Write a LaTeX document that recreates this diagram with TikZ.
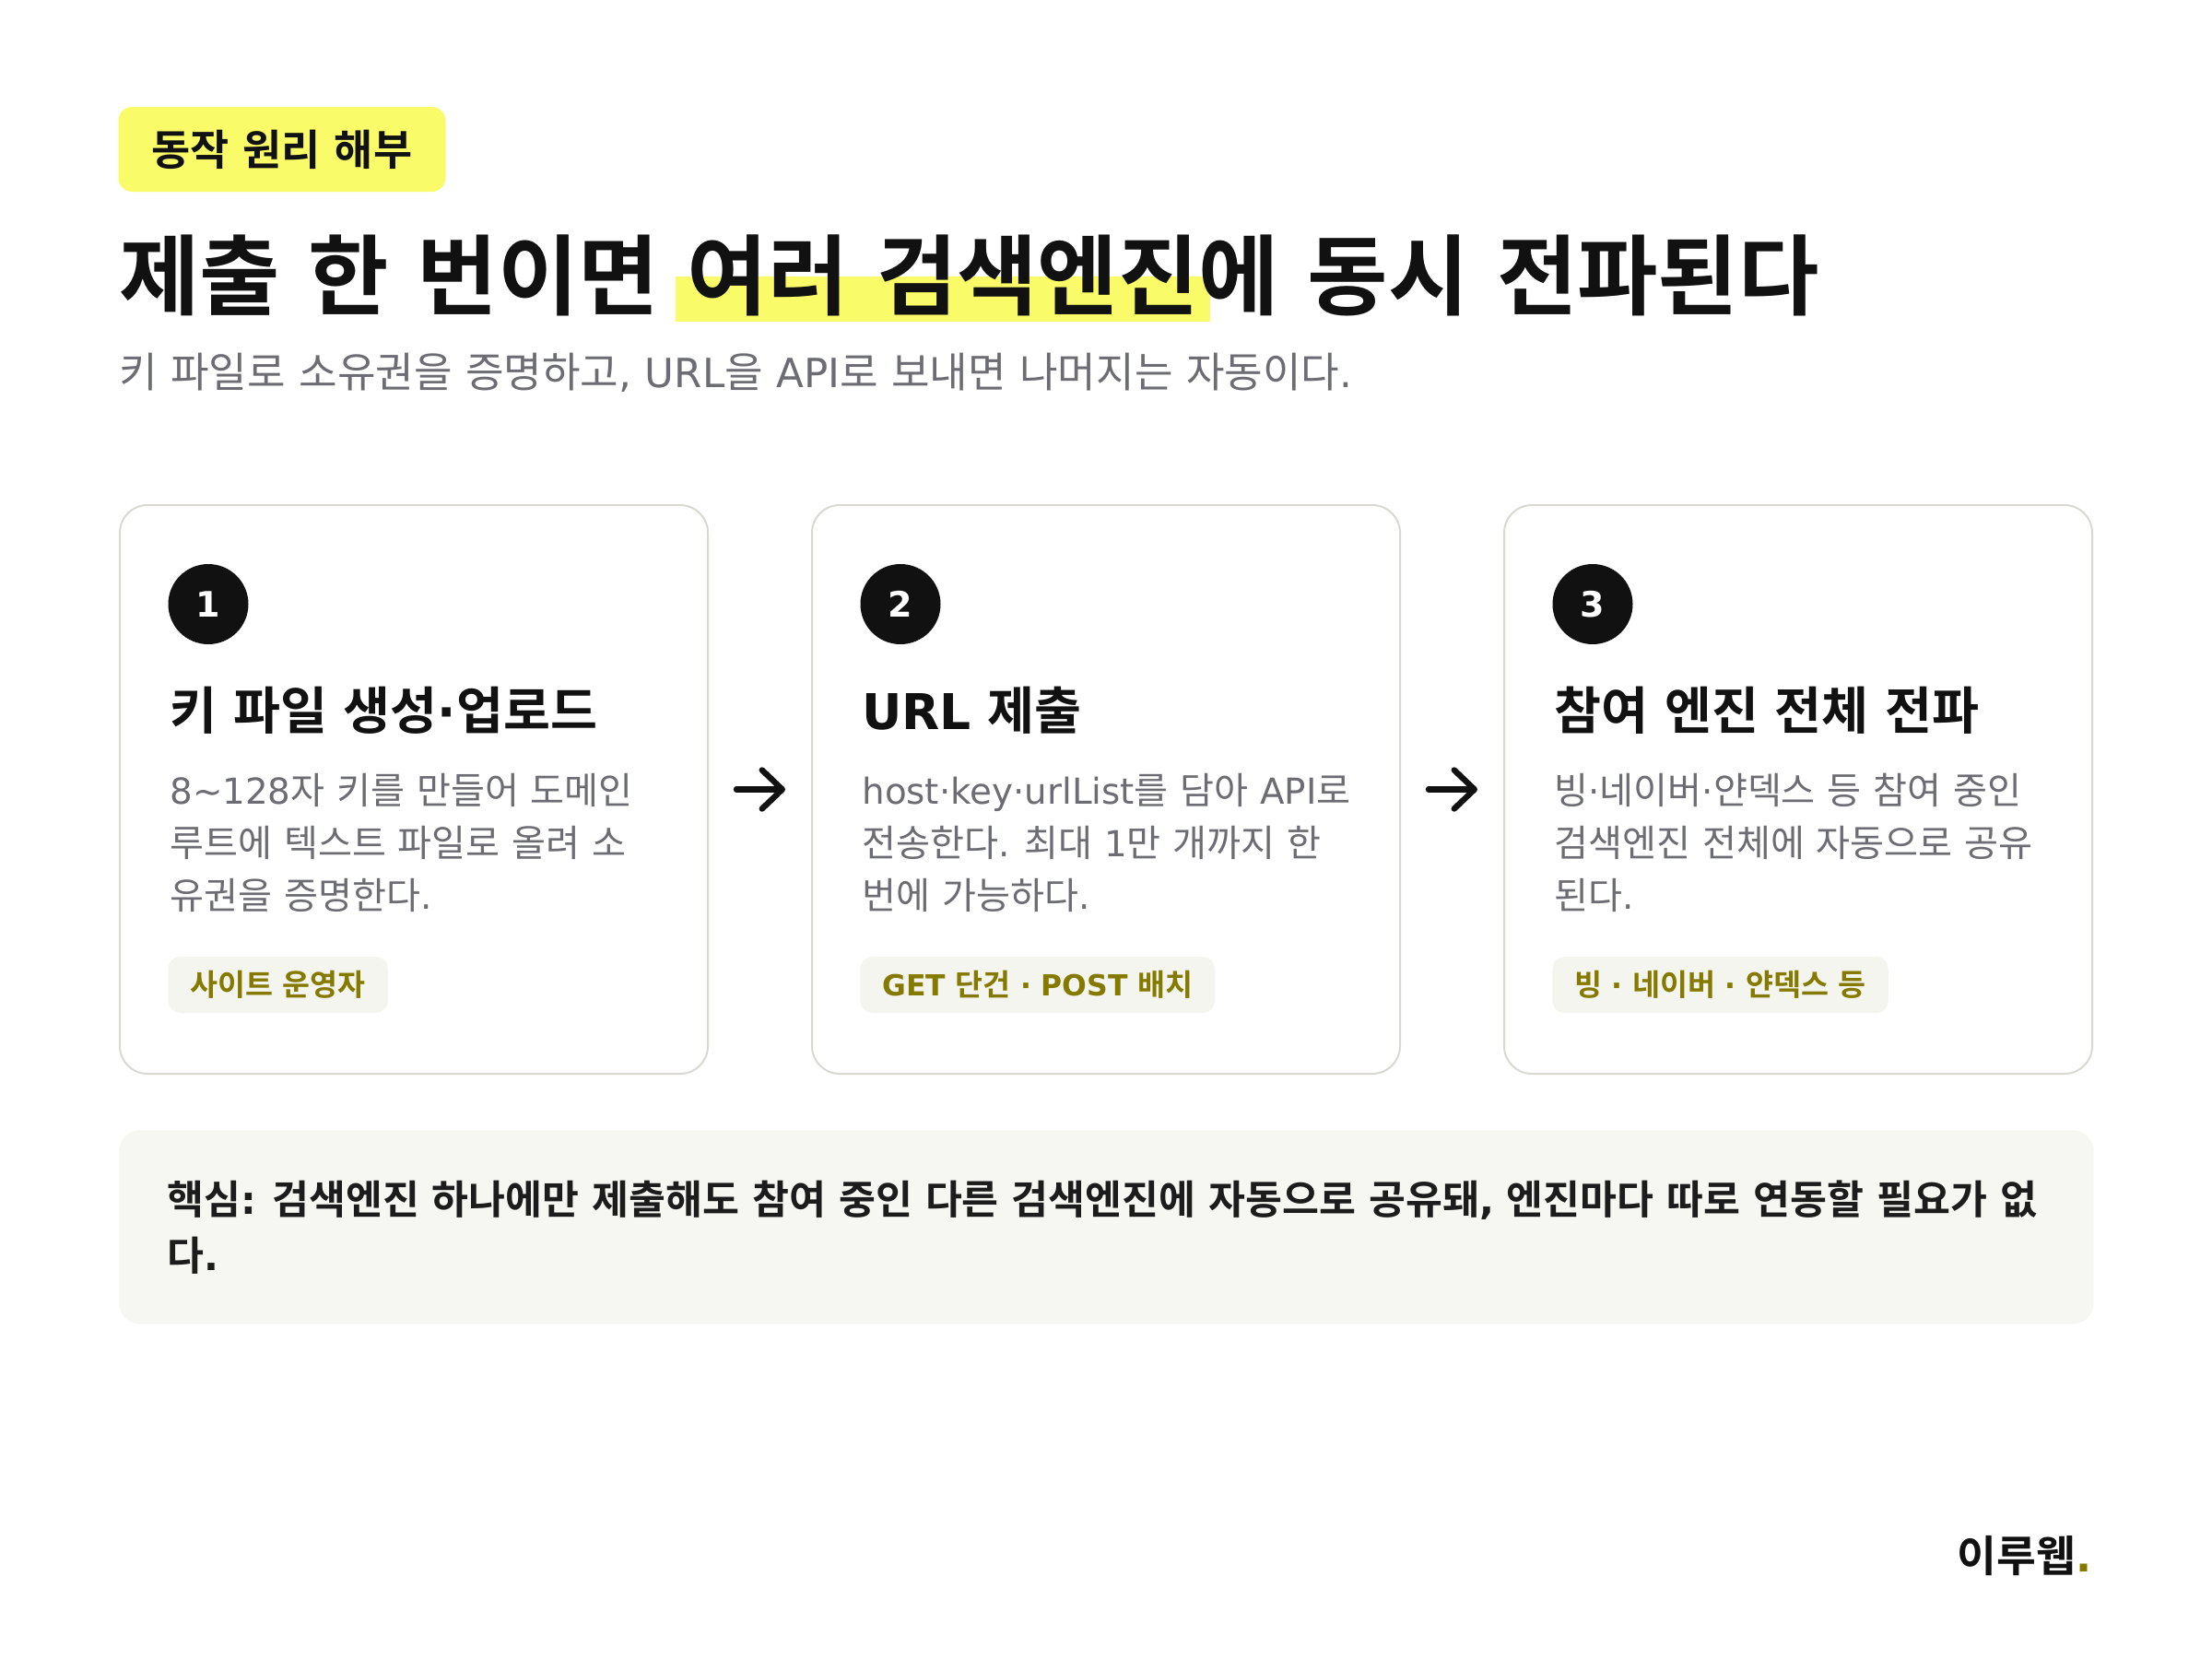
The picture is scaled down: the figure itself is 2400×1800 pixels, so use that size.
\documentclass[tikz,border=0pt]{standalone}
\usepackage{fontspec}
\setmainfont{Noto Sans CJK KR}[BoldFont={Noto Sans CJK KR Bold},WordSpace=1.42]
\newfontfamily\latf{DejaVu Sans}[Scale=0.965]
\newcommand\lat[1]{{\latf #1}}
\usetikzlibrary{arrows.meta}
\definecolor{hly}{HTML}{F9FC68}
\definecolor{ink}{HTML}{111111}
\definecolor{ink2}{HTML}{1C1C1C}
\definecolor{greytxt}{HTML}{6C6D72}
\definecolor{cardline}{HTML}{D9D9D2}
\definecolor{pillbg}{HTML}{F5F5F0}
\definecolor{tagolive}{HTML}{857A00}
\definecolor{boxbg}{HTML}{F6F6F2}
\newcommand\hlt[1]{\setbox0=\hbox{#1}\rlap{\smash{\kern-0.13em\textcolor{hly}{\rule[-0.155em]{\dimexpr\wd0+0.26em\relax}{0.51em}}}}\box0}
\newcommand\fl{\rule{0pt}{0.9em}}
\begin{document}
\begin{tikzpicture}[x=0.5pt,y=-0.5pt,
  badge/.style={fill=hly, rounded corners=7.5pt, minimum width=177.5pt, minimum height=46pt, inner sep=0, text=ink, font=\fontsize{22.9}{26}\selectfont\bfseries},
  card/.style={draw=cardline, line width=1pt, fill=white, rounded corners=15pt, minimum width=319pt, minimum height=308.5pt, inner sep=0, anchor=north west},
  numdot/.style={circle, fill=ink, minimum size=43.5pt, inner sep=0, text=white, font=\latf\bfseries\fontsize{19.7}{22}\selectfont},
  ctitle/.style={anchor=west, inner sep=0, text=ink, font=\fontsize{27.7}{32}\selectfont\bfseries},
  cdesc/.style={anchor=north west, inner sep=0, align=left, text=greytxt, font=\fontsize{20.1}{28.4}\selectfont},
  pill/.style={anchor=west, fill=pillbg, rounded corners=6.5pt, minimum height=30.5pt, inner xsep=12pt, inner ysep=0, text=tagolive, font=\fontsize{16.3}{19}\selectfont\bfseries},
  flow/.style={-{Straight Barb[length=11pt,width=21pt,round]}, line width=3.2pt, line cap=round, draw=ink},
  keybox/.style={fill=boxbg, rounded corners=11pt, minimum width=1071pt, minimum height=105pt, inner sep=0, anchor=north west}
]
\fill[white] (0,0) rectangle (2400,1800);
\path[use as bounding box] (0,0) rectangle (2400,1800);

% header
\node[badge] (badge) at (306,162) {동작 원리 해부};
\node[anchor=west, inner sep=0, text=ink, font=\fontsize{47.5}{56}\selectfont\bfseries] (title) at (129,298.5)
  {제출 한 번이면 \hlt{여러 검색엔진}에 동시 전파된다};
\node[anchor=west, inner sep=0, text=greytxt, font=\fontsize{22.6}{27}\selectfont] (sub) at (129,404)
  {키 파일로 소유권을 증명하고\lat{,} \lat{URL}을 \lat{API}로 보내면 나머지는 자동이다\lat{.}};

% cards
\node[card] (c1) at (129,547) {};
\node[card] (c2) at (880,547) {};
\node[card] (c3) at (1631,547) {};

% card 1
\node[numdot] (n1) at (226,655.5) {1};
\node[ctitle] (t1) at (184,771) {키 파일 생성\lat{·}업로드};
\node[cdesc] (d1) at (184,836) {\fl\lat{8\textasciitilde128}자 키를 만들어 도메인\\루트에 텍스트 파일로 올려 소\\유권을 증명한다\lat{.}};
\node[pill] (p1) at (182,1068.5) {사이트 운영자};

% card 2
\node[numdot] (n2) at (977,655.5) {2};
\node[ctitle] (t2) at (935,771) {\lat{URL} 제출};
\node[cdesc] (d2) at (935,836) {\fl\lat{host·key·urlList}를 담아 \lat{API}로\\전송한다\lat{.} 최대 \lat{1}만 개까지 한\\번에 가능하다\lat{.}};
\node[pill] (p2) at (933,1068.5) {\lat{GET} 단건 \lat{·} \lat{POST} 배치};

% card 3
\node[numdot] (n3) at (1728,655.5) {3};
\node[ctitle] (t3) at (1686,771) {참여 엔진 전체 전파};
\node[cdesc] (d3) at (1686,836) {\fl 빙\lat{·}네이버\lat{·}얀덱스 등 참여 중인\\검색엔진 전체에 자동으로 공유\\된다\lat{.}};
\node[pill] (p3) at (1684,1068.5) {빙 \lat{·} 네이버 \lat{·} 얀덱스 등};

% arrows
\draw[flow, shorten <=15pt, shorten >=14pt] (c1.east) -- (c2.west);
\draw[flow, shorten <=15pt, shorten >=14pt] (c2.east) -- (c3.west);

% key box
\node[keybox] (key) at (129,1226) {};
\node[anchor=north west, inner sep=0, align=left, text=ink2, font=\fontsize{21.7}{30.5}\selectfont\bfseries] (keytxt) at (181,1278.5)
  {\fl 핵심\lat{:} 검색엔진 하나에만 제출해도 참여 중인 다른 검색엔진에 자동으로 공유돼\lat{,} 엔진마다 따로 연동할 필요가 없\\다\lat{.}};

% logo
\node[anchor=east, inner sep=0, text=ink, font=\fontsize{23.3}{27}\selectfont\bfseries] (logo) at (2270,1688) {이루웹\textcolor{tagolive}{\lat{.}}};
\end{tikzpicture}
\end{document}
